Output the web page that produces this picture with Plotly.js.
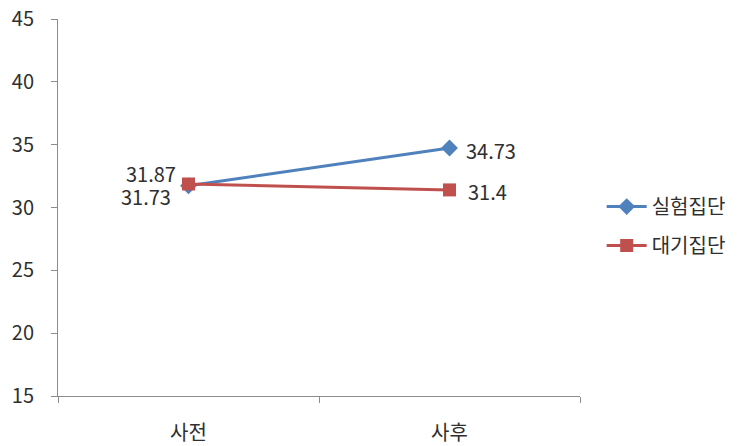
<!DOCTYPE html>
<html>
<head>
<meta charset="utf-8">
<script src="https://cdn.plot.ly/plotly-3.0.1.min.js"></script>
<style>
  html, body { margin: 0; padding: 0; background: #fff; }
  #chart { width: 741px; height: 446px; }
</style>
</head>
<body>
<div id="chart"></div>
<script>
// Measurement points
const phases = ['사전', '사후'];
// Group scores
const experimentalGroup = [31.73, 34.73];
const waitlistGroup = [31.87, 31.4];
const seriesNames = ['실험집단', '대기집단'];
// Y axis ticks
const yTicks = [15, 20, 25, 30, 35, 40, 45];

const FONT = '"Noto Sans CJK KR", "Malgun Gothic", sans-serif';
const TEXT_COLOR = '#2f2f2f';
const SIZE = 20;

const traces = [
  {
    x: phases, y: experimentalGroup, name: seriesNames[0],
    type: 'scatter', mode: 'lines+markers', legendgroup: 'a',
    line: { color: '#4F81BD', width: 3 },
    marker: { symbol: 'diamond', size: 13, color: '#4F81BD' },
    hoverinfo: 'skip'
  },
  {
    x: phases, y: waitlistGroup, name: seriesNames[1],
    type: 'scatter', mode: 'lines+markers', legendgroup: 'b',
    line: { color: '#C0504D', width: 3 },
    marker: { symbol: 'square', size: 13, color: '#C0504D' },
    hoverinfo: 'skip'
  }
];

// Value labels: left of the first point, right of the second
const labelShifts = {
  a: [{ xanchor: 'right', xshift: -16, yshift: -11 }, { xanchor: 'left', xshift: 14, yshift: -2 }],
  b: [{ xanchor: 'right', xshift: -11, yshift: 11 }, { xanchor: 'left', xshift: 16, yshift: -2 }]
};
const annotations = [];
[[experimentalGroup, 'a'], [waitlistGroup, 'b']].forEach(([vals, key]) => {
  vals.forEach((v, i) => {
    const s = labelShifts[key][i];
    annotations.push({
      x: phases[i], y: v, xref: 'x', yref: 'y',
      text: String(v), showarrow: false,
      xanchor: s.xanchor, yanchor: 'middle',
      xshift: s.xshift, yshift: s.yshift,
      font: { family: FONT, size: SIZE, color: TEXT_COLOR }
    });
  });
});

const layout = {
  width: 741, height: 446,
  margin: { l: 58, r: 161, t: 19, b: 50 },
  paper_bgcolor: '#ffffff', plot_bgcolor: '#ffffff',
  font: { family: FONT, size: SIZE, color: TEXT_COLOR },
  showlegend: true,
  legend: {
    xref: 'container', yref: 'container',
    x: 0.812, xanchor: 'left', y: 0.493, yanchor: 'middle',
    traceorder: 'grouped', tracegroupgap: 10,
    font: { family: FONT, size: SIZE, color: TEXT_COLOR },
    itemwidth: 40
  },
  xaxis: {
    type: 'category', range: [-0.5, 1.5], automargin: false,
    showgrid: false, zeroline: false,
    showline: true, linecolor: '#8c8c8c', linewidth: 1,
    ticks: 'outside', tickson: 'boundaries', ticklen: 6, tickcolor: '#8c8c8c',
    ticklabelstandoff: 19,
    tickfont: { family: FONT, size: SIZE, color: TEXT_COLOR },
    fixedrange: true
  },
  yaxis: {
    range: [15, 45], tickvals: yTicks, ticktext: yTicks.map(String), automargin: false,
    showgrid: false, zeroline: false,
    showline: true, linecolor: '#8c8c8c', linewidth: 1,
    ticks: 'outside', ticklen: 6, tickcolor: '#8c8c8c',
    ticklabelstandoff: 13,
    tickfont: { family: FONT, size: SIZE, color: TEXT_COLOR },
    fixedrange: true
  },
  annotations: annotations
};

Plotly.newPlot('chart', traces, layout, { displayModeBar: false, staticPlot: true });
</script>
</body>
</html>
